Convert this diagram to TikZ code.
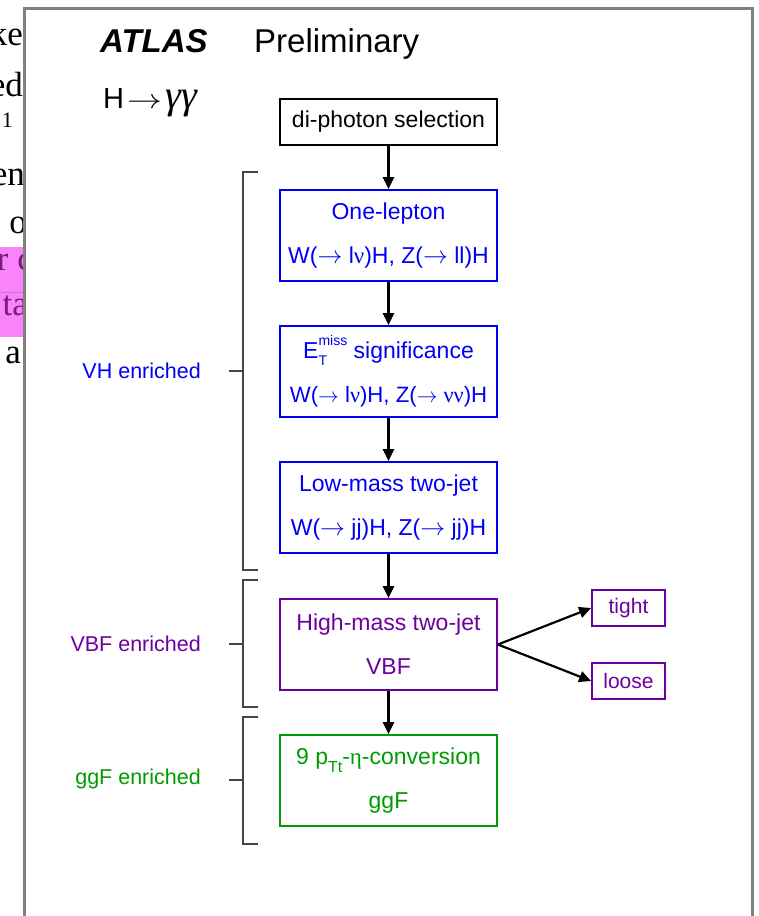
\documentclass[tikz,border=0pt]{standalone}
\usepackage{graphicx}
\usepackage{fontspec}
\setmainfont{Liberation Sans}
\newfontfamily\serif{Liberation Serif}
\usetikzlibrary{arrows.meta}

\definecolor{vhblue}{RGB}{0,0,245}
\definecolor{vbfpurple}{RGB}{110,0,160}
\definecolor{ggfgreen}{RGB}{0,155,0}
\definecolor{framegray}{RGB}{128,128,128}
\definecolor{bracketgray}{RGB}{70,70,70}
\definecolor{hlpink}{RGB}{250,130,250}
\definecolor{hltext}{RGB}{120,30,120}

% Greek letters come from the serif face, arrows from the math font
\newcommand\sy[1]{{\serif #1}}
\newcommand\ar{\ensuremath{\rightarrow}}
\newcommand\etmiss{E\rlap{\raisebox{-0.3em}{\fontsize{14}{14}\selectfont T}}\raisebox{0.55em}{\fontsize{14}{14}\selectfont miss}}
\newcommand\lowidx[1]{\raisebox{-0.35em}{\fontsize{16}{16}\selectfont #1}}

\tikzset{
  stagebox/.style={draw, rectangle, line width=1.7pt, minimum width=217pt,
    minimum height=91pt, inner sep=0pt, align=center,
    font=\fontsize{23}{44}\selectfont},
  vhbox/.style={stagebox, draw=vhblue, text=vhblue},
  vbfbox/.style={stagebox, draw=vbfpurple, text=vbfpurple},
  ggfbox/.style={stagebox, draw=ggfgreen, text=ggfgreen},
  catbox/.style={draw=vbfpurple, text=vbfpurple, rectangle, line width=1.7pt,
    minimum width=73pt, minimum height=36pt, inner sep=0pt,
    font=\fontsize{21}{21}\selectfont},
  flow/.style={line width=2.2pt, -{Triangle[length=12pt,width=11pt]}},
  brace/.style={bracketgray, line width=1.2pt},
  grouplabel/.style={anchor=east, inner sep=0pt, font=\fontsize{21.5}{21.5}\selectfont},
  frag/.style={anchor=base east, inner sep=0pt, font=\serif\fontsize{35}{35}\selectfont}
}

\begin{document}
\begin{tikzpicture}[x=1pt,y=-1pt]
\useasboundingbox (0,0) rectangle (758,916);
\fill[white] (0,0) rectangle (758,916);

% text of the neighbouring page column, cut off by the frame
\begin{scope}
  \clip (0,0) rectangle (23,916);
  \fill[hlpink] (0,247) rectangle (23,337);
  \draw[hlpink!85!black, line width=0.4pt] (0,292) -- (23,292);
  \node[frag] (f1) at (23,45) {ke};
  \node[frag] (f2) at (23,96) {ed};
  \node[frag, font=\serif\fontsize{22}{22}\selectfont] (f3) at (13,127) {1};
  \node[frag] (f4) at (25,185) {en};
  \node[frag] (f5) at (27,233) {o};
  \node[frag, text=hltext] (f6) at (33,270) {r c};
  \node[frag, text=hltext] (f7) at (28,315) {ta};
  \node[frag] (f8) at (21,363) {a};
\end{scope}

% figure frame
\draw[framegray, line width=3pt] (24,918) -- (24,8) -- (752,8) -- (752,918);

% titles
\node[anchor=base west, inner sep=0pt, font=\bfseries\itshape\fontsize{33}{33}\selectfont] (atlas) at (100,52) {ATLAS};
\node[anchor=base west, inner sep=0pt, font=\fontsize{33}{33}\selectfont] (prelim) at (254,52) {Preliminary};
\node[anchor=base west, inner sep=0pt, font=\fontsize{29}{29}\selectfont] (channel) at (103,108)
  {H\hspace{3pt}\scalebox{1.4}[1.1]{\ar}\hspace{4pt}{\serif\itshape\fontsize{40}{40}\selectfont γγ}};

% selection stages
\node[stagebox, draw=black, minimum height=46pt] (sel) at (388.5,122) {di-photon selection};
\node[vhbox] (onelep) at (388.5,235.5) {One-lepton\\W(\ar{} l\sy{ν})H, Z(\ar{} ll)H};
\node[vhbox] (met) at (388.5,371.5) {\etmiss{} significance\\{\fontsize{22.2}{44}\selectfont W(\ar{} l\sy{ν})H, Z(\ar{} \sy{νν})H}};
\node[vhbox] (lowm) at (388.5,507.5) {Low-mass two-jet\\W(\ar{} jj)H, Z(\ar{} jj)H};
\node[vbfbox] (highm) at (388.5,644.5) {High-mass two-jet\\VBF};
\node[ggfbox] (ggf) at (388.5,780.5) {9 p\lowidx{Tt}-\sy{η}-conversion\\ggF};
\node[catbox] (tight) at (628.5,608) {tight};
\node[catbox] (loose) at (628.5,681) {loose};

\draw[flow] (sel) -- (onelep);
\draw[flow] (onelep) -- (met);
\draw[flow] (met) -- (lowm);
\draw[flow] (lowm) -- (highm);
\draw[flow] (highm) -- (ggf);
\draw[flow] (highm.east) -- (tight.west);
\draw[flow] (highm.east) -- (loose.west);

% production-mode groupings
\draw[brace] (258,172) -- (243,172) -- (243,570) -- (258,570);
\draw[brace] (229,371) -- (243,371);
\draw[brace] (258,580) -- (243,580) -- (243,707) -- (258,707);
\draw[brace] (229,644) -- (243,644);
\draw[brace] (258,717) -- (243,717) -- (243,844) -- (258,844);
\draw[brace] (229,780) -- (243,780);

\node[grouplabel, text=vhblue] (vh) at (201,371) {VH enriched};
\node[grouplabel, text=vbfpurple] (vbf) at (201,644) {VBF enriched};
\node[grouplabel, text=ggfgreen] (gg) at (201,779) {ggF enriched};
\end{tikzpicture}
\end{document}
